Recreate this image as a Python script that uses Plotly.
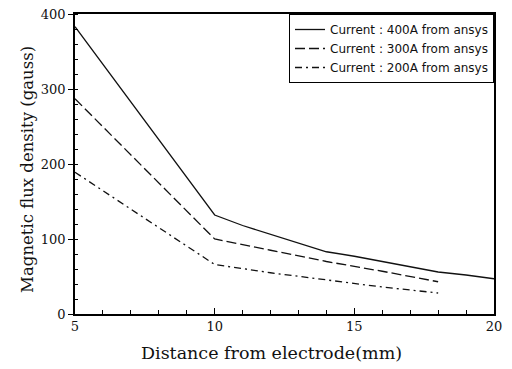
import plotly.graph_objects as go

x400 = [5, 10, 11, 12, 13, 14, 15, 16, 17, 18, 19, 20]
y400 = [383, 132, 118, 106, 94, 83, 77, 70, 62, 56, 52, 47]
x300 = [5, 10, 12, 14, 16, 18]
y300 = [287, 100, 85, 70, 57, 43]
x200 = [5, 10, 12, 14, 16, 18]
y200 = [189, 66, 55, 45, 36, 28]
names = ["Current : 400A from ansys", "Current : 300A from ansys", "Current : 200A from ansys"]
xticks = [5, 10, 15, 20]
yticks = [0, 100, 200, 300, 400]
xtitle = "Distance from electrode(mm)"
ytitle = "Magnetic flux density (gauss)"

fig = go.Figure()
fig.add_trace(go.Scatter(x=x400, y=y400, mode="lines", name=names[0],
                         line=dict(color="#111", width=1.3)))
fig.add_trace(go.Scatter(x=x300, y=y300, mode="lines", name=names[1],
                         line=dict(color="#111", width=1.3, dash="10px,4px")))
fig.add_trace(go.Scatter(x=x200, y=y200, mode="lines", name=names[2],
                         line=dict(color="#111", width=1.3, dash="7px,4px,2px,4px")))

serif = "DejaVu Serif, Liberation Serif, serif"
fig.update_layout(
    width=512, height=369,
    margin=dict(l=75, r=18, t=14, b=55, autoexpand=False),
    paper_bgcolor="white", plot_bgcolor="white",
    showlegend=True,
    legend=dict(x=1, xanchor="right", y=1, yanchor="top",
                bordercolor="black", borderwidth=1, bgcolor="white",
                font=dict(family="DejaVu Sans, Liberation Sans, sans-serif", size=12, color="#111"),
                tracegroupgap=0, itemwidth=30),
    font=dict(family=serif, color="#111"),
    annotations=[
        dict(text=xtitle, xref="paper", yref="paper", x=0.47, y=-0.13,
             xanchor="center", yanchor="middle", showarrow=False,
             font=dict(family=serif, size=17.5, color="#111")),
        dict(text=ytitle, xref="paper", yref="paper", x=-0.115, y=0.483,
             xanchor="center", yanchor="middle", showarrow=False, textangle=-90,
             font=dict(family=serif, size=16.5, color="#111")),
    ],
)
fig.update_xaxes(
    range=[5, 20], tickvals=xticks,
    ticks="inside", ticklen=6, tickwidth=1.2, tickcolor="black",
    minor=dict(ticks="inside", dtick=1, ticklen=4, tickcolor="black"),
    showline=True, linecolor="black", linewidth=1.5, mirror=True,
    showgrid=False, zeroline=False,
    tickfont=dict(family=serif, size=13),
)
fig.update_yaxes(
    range=[0, 400], tickvals=yticks,
    ticks="outside", ticklen=5, tickwidth=1.2, tickcolor="black",
    minor=dict(ticks="inside", dtick=20, ticklen=3, tickcolor="black"),
    showline=True, linecolor="black", linewidth=1.8, mirror=True,
    showgrid=False, zeroline=False,
    tickfont=dict(family=serif, size=13),
)

fig.write_html("out.html", config={"displayModeBar": False},
               post_script="document.body.style.margin='0';")
